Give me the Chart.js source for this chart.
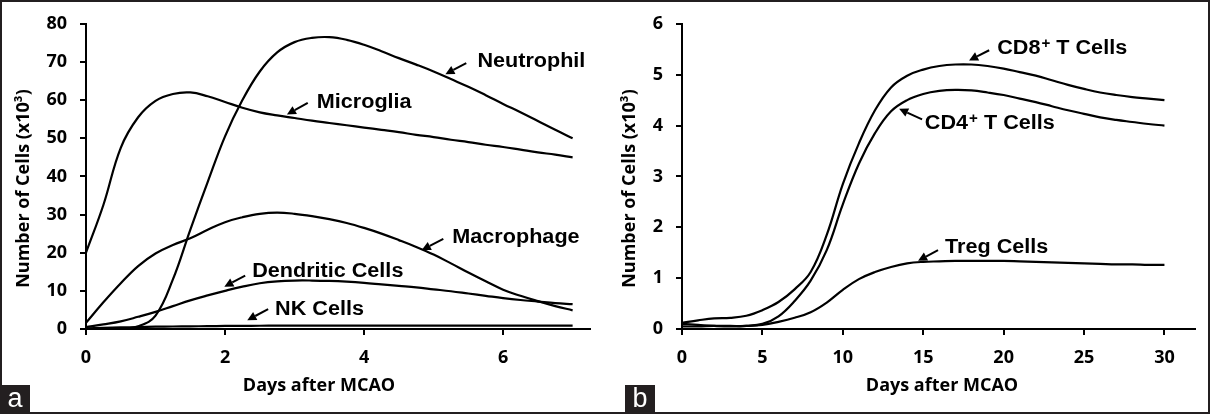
<!DOCTYPE html>
<html><head><meta charset="utf-8">
<script src="https://cdn.jsdelivr.net/npm/chart.js@4.4.1/dist/chart.umd.min.js"></script>
<style>
html,body{margin:0;padding:0;background:#fff;}
#wrap{position:relative;width:1210px;height:414px;overflow:hidden;background:#fff;}
canvas{position:absolute;top:0;}
#ca{left:0;} #cb{left:605px;}
#frame{position:absolute;left:0;top:0;width:1210px;height:414px;box-sizing:border-box;border:2px solid #231f20;pointer-events:none;}
</style></head><body>
<div id="wrap"><canvas id="ca" width="605" height="414"></canvas><canvas id="cb" width="605" height="414"></canvas><div id="frame"></div></div>
<script>
// ---------- Panel a data ----------
const daysA = [0,0.25,0.5,0.75,1,1.25,1.5,1.75,2,2.25,2.5,2.75,3,3.25,3.5,3.75,4,4.25,4.5,4.75,5,5.25,5.5,5.75,6,6.25,6.5,6.75,7];
const neutrophil = [0,0,0,0.7,3.5,13,26,38.5,50.5,60,67.5,72.5,75.2,76.3,76.5,75.8,74.5,72.8,71,69.3,67.5,65.5,63.5,61.3,59,56.8,54.5,52.2,50];
const microglia  = [20,32.5,47.5,55.5,59.8,61.6,62,61,59.5,58,56.8,56,55.3,54.6,54,53.4,52.8,52.2,51.6,50.9,50.3,49.6,49,48.3,47.7,47,46.3,45.7,45];
const macrophage = [1.6,7,12,16.5,19.8,22,23.8,26,28,29.3,30.2,30.5,30.2,29.6,28.8,27.8,26.5,25,23.3,21.5,19.5,17.2,14.8,12.5,10.3,8.7,7.3,6,4.9];
const dendritic  = [0.5,1.2,2,3.2,4.5,6,7.5,8.8,10,11.1,12,12.5,12.7,12.7,12.6,12.4,12.1,11.7,11.3,10.9,10.4,9.9,9.3,8.7,8.1,7.6,7.2,6.8,6.5];
const nkCells    = [0.2,0.3,0.4,0.5,0.6,0.65,0.7,0.75,0.8,0.82,0.85,0.88,0.9,0.9,0.9,0.9,0.9,0.9,0.9,0.9,0.9,0.9,0.9,0.9,0.9,0.9,0.9,0.9,0.9];
const yTicksA = [0,10,20,30,40,50,60,70,80];
const xTicksA = [0,2,4,6];

// ---------- Panel b data ----------
const daysB = [0,1,2,3,4,5,6,7,8,9,10,11,12,13,14,15,16,17,18,19,20,21,22,23,24,25,26,27,28,29,30];
const cd8  = [0.12,0.17,0.21,0.22,0.26,0.37,0.53,0.78,1.12,1.85,2.85,3.65,4.3,4.75,4.98,5.1,5.17,5.2,5.2,5.17,5.12,5.05,4.98,4.89,4.8,4.72,4.65,4.6,4.56,4.53,4.5];
const cd4  = [0.1,0.08,0.06,0.05,0.06,0.1,0.25,0.55,0.95,1.55,2.45,3.25,3.85,4.28,4.5,4.62,4.68,4.7,4.69,4.65,4.6,4.53,4.46,4.38,4.3,4.23,4.16,4.11,4.07,4.03,4.0];
const treg = [0.05,0.05,0.06,0.06,0.06,0.08,0.14,0.22,0.33,0.52,0.77,0.98,1.12,1.22,1.29,1.32,1.33,1.34,1.34,1.34,1.34,1.33,1.32,1.31,1.3,1.29,1.28,1.27,1.27,1.26,1.26];
const yTicksB = [0,1,2,3,4,5,6];
const xTicksB = [0,5,10,15,20,25,30];

const xTitle = 'Days after MCAO';
const yTitle = 'Number of Cells (x10\u00B3)';

// annotation labels (data coordinates)
const notesA = [
  {text:'Neutrophil', x:5.63, y:68.6, from:[5.47,69.7], to:[5.17,66.8]},
  {text:'Microglia', x:3.32, y:57.9, from:[3.19,59.3], to:[2.89,56.2]},
  {text:'Macrophage', x:5.27, y:22.5, from:[5.14,23.6], to:[4.83,20.7]},
  {text:'Dendritic Cells', x:2.39, y:13.7, from:[2.29,14.0], to:[1.99,11.1]},
  {text:'NK Cells', x:2.72, y:3.6, from:[2.62,5.2], to:[2.32,2.3]}
];
const notesB = [
  {text:'CD8', sup:'+', rest:' T Cells', x:19.6, y:5.4, from:[19.1,5.48], to:[17.85,5.28]},
  {text:'CD4', sup:'+', rest:' T Cells', x:15.1, y:3.94, from:[14.93,4.12], to:[13.5,4.33]},
  {text:'Treg Cells', x:16.36, y:1.49, from:[15.92,1.55], to:[14.68,1.34]}
];

const TICK_FONT = {family:'"Open Sans", sans-serif', size:18, weight:'bold'};
const TITLE_FONT = 'bold 18px "Open Sans", sans-serif';
const NOTE_FONT = 'bold 20px "Liberation Sans", Arial, sans-serif';
const SUP_FONT = 'bold 14px "Liberation Sans", Arial, sans-serif';

function arrow(ctx, x1, y1, x2, y2){
  const ang = Math.atan2(y2-y1, x2-x1);
  const hl = 9, hw = 4.5;
  const bx = x2 - hl*Math.cos(ang), by = y2 - hl*Math.sin(ang);
  ctx.beginPath(); ctx.moveTo(x1,y1); ctx.lineTo(bx,by);
  ctx.lineWidth = 2; ctx.strokeStyle = '#000'; ctx.stroke();
  ctx.beginPath();
  ctx.moveTo(x2,y2);
  ctx.lineTo(bx + hw*Math.sin(ang), by - hw*Math.cos(ang));
  ctx.lineTo(bx - hw*Math.sin(ang), by + hw*Math.cos(ang));
  ctx.closePath(); ctx.fillStyle='#000'; ctx.fill();
}

function makeDecor(notes, opts){
  return {
    id:'decor',
    afterDraw(chart){
      const ctx = chart.ctx, sx = chart.scales.x, sy = chart.scales.y;
      ctx.save();
      notes.forEach(n=>{
        const px = sx.getPixelForValue(n.x), py = sy.getPixelForValue(n.y);
        ctx.save();
        ctx.translate(px, py); ctx.scale(1.08, 1);
        ctx.fillStyle='#000'; ctx.textAlign='left'; ctx.textBaseline='alphabetic';
        ctx.font = NOTE_FONT;
        ctx.fillText(n.text, 0, 0);
        if(n.sup){
          let w = ctx.measureText(n.text).width + 1;
          ctx.font = SUP_FONT; ctx.fillText(n.sup, w, -6);
          w += ctx.measureText(n.sup).width;
          ctx.font = NOTE_FONT; ctx.fillText(n.rest, w, 0);
        }
        ctx.restore();
        arrow(ctx, sx.getPixelForValue(n.from[0]), sy.getPixelForValue(n.from[1]),
                   sx.getPixelForValue(n.to[0]), sy.getPixelForValue(n.to[1]));
      });
      // axis titles
      ctx.fillStyle='#000';
      ctx.font = TITLE_FONT;
      ctx.textAlign='center'; ctx.textBaseline='alphabetic';
      ctx.fillText(xTitle, opts.xTitleX, 391);
      ctx.save();
      ctx.translate(opts.yTitleX, 188.5); ctx.rotate(-Math.PI/2);
      ctx.textBaseline='middle';
      ctx.fillText(yTitle, 0, 0);
      ctx.restore();
      // panel badge
      ctx.fillStyle = '#231f20';
      ctx.fillRect(opts.badgeX, 385, 30, 29);
      ctx.fillStyle = '#fff';
      ctx.font = '27px "Liberation Sans", Arial, sans-serif';
      ctx.textAlign='center'; ctx.textBaseline='alphabetic';
      ctx.fillText(opts.badge, opts.badgeX + 15, 407);
      ctx.restore();
    }
  };
}

function mkSet(label, xs, ys){
  return {label, data: xs.map((x,i)=>({x, y: ys[i]})), borderColor:'#000', borderWidth:2.2,
          pointRadius:0, fill:false, tension:0.4, clip:6};
}

function makeChart(id, datasets, cfg){
  return new Chart(document.getElementById(id), {
    type:'line',
    data:{datasets},
    options:{
      responsive:false, animation:false, devicePixelRatio:1,
      layout:{padding:{top:20, right:15, bottom:0, left:0}},
      plugins:{legend:{display:false}, tooltip:{enabled:false}},
      scales:{
        x:{type:'linear', min:0, max:cfg.xMax,
           afterFit(s){ s.height = 85; },
           afterBuildTicks(s){ s.ticks = cfg.xTicks.map(v=>({value:v})); },
           ticks:{font:TICK_FONT, color:'#000', padding:12, maxRotation:0, autoSkip:false},
           grid:{drawOnChartArea:false, drawTicks:true, tickLength:6, color:'#000', lineWidth:2},
           border:{display:true, color:'#000', width:2}},
        y:{type:'linear', min:0, max:cfg.yMax,
           afterFit(s){ s.width = cfg.yWidth; },
           afterBuildTicks(s){ s.ticks = cfg.yTicks.map(v=>({value:v})); },
           ticks:{font:TICK_FONT, color:'#000', padding:13, autoSkip:false},
           grid:{drawOnChartArea:false, drawTicks:true, tickLength:6, color:'#000', lineWidth:2},
           border:{display:true, color:'#000', width:2}}
      }
    },
    plugins:[makeDecor(cfg.notes, cfg)]
  });
}

makeChart('ca', [
  mkSet('Neutrophil', daysA, neutrophil),
  mkSet('Microglia', daysA, microglia),
  mkSet('Macrophage', daysA, macrophage),
  mkSet('Dendritic Cells', daysA, dendritic),
  mkSet('NK Cells', daysA, nkCells)
], {xMax:7.25, yMax:80, xTicks:xTicksA, yTicks:yTicksA, yWidth:86, notes:notesA,
    xTitleX:319, yTitleX:24, badge:'a', badgeX:0});

makeChart('cb', [
  mkSet('CD8+ T Cells', daysB, cd8),
  mkSet('CD4+ T Cells', daysB, cd4),
  mkSet('Treg Cells', daysB, treg)
], {xMax:31.9, yMax:6, xTicks:xTicksB, yTicks:yTicksB, yWidth:77, notes:notesB,
    xTitleX:337, yTitleX:25, badge:'b', badgeX:20});
</script>
</body></html>
